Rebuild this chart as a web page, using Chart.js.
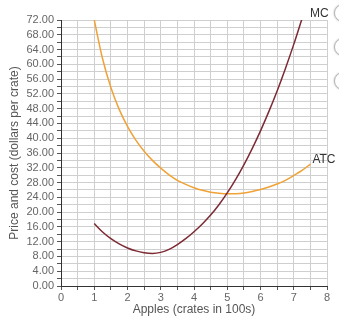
<!DOCTYPE html>
<html>
<head>
<meta charset="utf-8">
<script src="https://cdn.jsdelivr.net/npm/chart.js@4/dist/chart.umd.min.js"></script>
<style>
    html, body { margin: 0; padding: 0; background: #fff; overflow: hidden; }
    #wrap { position: relative; width: 339px; height: 328px; }
    .radio {
        position: absolute; left: 334px; width: 16px; height: 16px;
        border: 1px solid #b5b5b5; border-radius: 50%; background: #fff;
        box-shadow: 0 0 2px rgba(0, 0, 0, 0.3);
    }
</style>
</head>
<body>
<div id="wrap">
    <canvas id="cost-chart" width="339" height="328"></canvas>
    <div class="radio" style="top: 4px;"></div>
    <div class="radio" style="top: 38px;"></div>
    <div class="radio" style="top: 72px;"></div>
</div>
<script>
'use strict';

// Output in crates (hundreds), one sample every quarter unit
const quantity = [1, 1.25, 1.5, 1.75, 2, 2.25, 2.5, 2.75, 3, 3.25, 3.5, 3.75, 4, 4.25,
    4.5, 4.75, 5, 5.25, 5.5, 5.75, 6, 6.25, 6.5, 6.75, 7, 7.25, 7.5];
const marginalCost = [16.9, 14.6, 12.8, 11.4, 10.3, 9.5, 9.0, 8.8, 9.1, 9.9, 11.2, 12.8,
    14.7, 16.8, 19.2, 22.0, 25.2, 28.8, 32.8, 37.2, 42.0, 47.2, 52.8, 58.9, 65.4, 72.4, null];
const averageTotalCost = [72.0, 61.5, 53.7, 47.8, 43.2, 39.5, 36.5, 34.0, 31.9, 30.1, 28.6,
    27.5, 26.6, 25.9, 25.4, 25.1, 24.95, 25.0, 25.2, 25.6, 26.1, 26.8, 27.6, 28.6, 29.9, 31.3, 33.0];
const curveLabels = ['MC', 'ATC'];

const xTicks = { min: 0, max: 8, step: 0.5 };
const yTicks = { min: 0, max: 72, step: 2, labelEvery: 4 };

Chart.defaults.font.family = '"Liberation Sans", Arial, sans-serif';
Chart.defaults.color = '#555';

function toPoints(values) {
    return quantity.map((q, i) => ({ x: q, y: values[i] }));
}

// Writes each curve's name just past the end of its line
const curveNamePlugin = {
    id: 'curveNames',
    afterDatasetsDraw(chart) {
        const ctx = chart.ctx;
        const xScale = chart.scales.x;
        const yScale = chart.scales.y;
        ctx.save();
        ctx.font = '12px "Liberation Sans", Arial, sans-serif';
        ctx.fillStyle = '#333';
        ctx.textAlign = 'left';
        ctx.textBaseline = 'middle';
        chart.data.datasets.forEach(ds => {
            const pts = ds.data.filter(p => p.y !== null);
            const last = pts[pts.length - 1];
            const px = xScale.getPixelForValue(last.x);
            const py = yScale.getPixelForValue(last.y);
            ctx.fillText(ds.label, px + ds.nameOffset[0], py + ds.nameOffset[1]);
        });
        ctx.restore();
    },
};

const costChartElement = document.getElementById('cost-chart');
const costChart = new Chart(costChartElement, {
    type: 'line',
    data: {
        datasets: [
            {
                label: curveLabels[0],
                data: toPoints(marginalCost),
                borderColor: '#7d2a33',
                borderWidth: 1.5,
                pointRadius: 0,
                cubicInterpolationMode: 'monotone',
                nameOffset: [8, -5],
            },
            {
                label: curveLabels[1],
                data: toPoints(averageTotalCost),
                borderColor: '#f0a236',
                borderWidth: 1.5,
                pointRadius: 0,
                cubicInterpolationMode: 'monotone',
                nameOffset: [2, -4],
            },
        ],
    },
    options: {
        responsive: false,
        animation: false,
        events: [],
        layout: {
            padding: { top: 20, right: 12, bottom: 7, left: 3 },
        },
        scales: {
            x: {
                type: 'linear',
                min: xTicks.min,
                max: xTicks.max,
                afterFit(scale) { scale.height = 35; },
                ticks: {
                    stepSize: xTicks.step,
                    padding: 1,
                    maxRotation: 0,
                    autoSkip: false,
                    font: { size: 11 },
                    color: '#666',
                    callback: value => Number.isInteger(value) ? String(value) : '',
                },
                grid: {
                    color: '#cfcfcf',
                    tickColor: '#555',
                    tickLength: 4,
                },
                border: { color: '#333', width: 1 },
                title: {
                    display: true,
                    text: 'Apples (crates in 100s)',
                    font: { size: 12 },
                    color: '#555',
                    padding: { top: 4, bottom: 4 },
                },
            },
            y: {
                type: 'linear',
                min: yTicks.min,
                max: yTicks.max,
                afterFit(scale) { scale.width = 58; },
                ticks: {
                    stepSize: yTicks.step,
                    padding: 3,
                    autoSkip: false,
                    font: { size: 11 },
                    color: '#666',
                    callback: value => value % yTicks.labelEvery === 0 ? value.toFixed(2) : '',
                },
                grid: {
                    color: '#cfcfcf',
                    tickColor: '#555',
                    tickLength: 4,
                },
                border: { color: '#333', width: 1 },
                title: {
                    display: true,
                    text: 'Price and cost (dollars per crate)',
                    font: { size: 12 },
                    color: '#555',
                    padding: { top: 4, bottom: 4 },
                },
            },
        },
        plugins: {
            legend: { display: false },
            tooltip: { enabled: false },
        },
    },
    plugins: [curveNamePlugin],
});
</script>
</body>
</html>
